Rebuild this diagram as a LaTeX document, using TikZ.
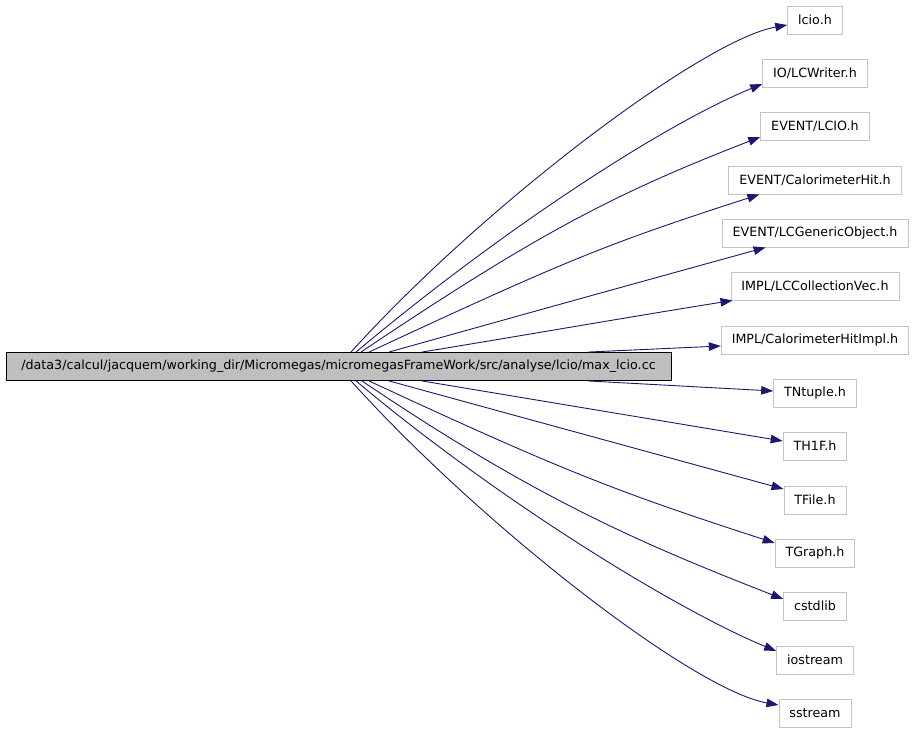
\documentclass[tikz,border=0pt]{standalone}
\usepackage{fontspec}
\setmainfont{DejaVu Sans}
\usetikzlibrary{arrows.meta}
\definecolor{edgeblue}{HTML}{191970}
\definecolor{boxgray}{HTML}{BFBFBF}
\definecolor{linegray}{HTML}{C4C4C4}

\begin{document}
\begin{tikzpicture}[x=1pt,y=-1pt,
                font=\fontsize{12.7}{15}\selectfont,
                every node/.style={draw=linegray,line width=0.9pt,inner xsep=10.5pt,inner ysep=0pt,minimum height=28pt},
                file/.style={fill=boxgray,draw=black,minimum width=665pt},
                inc/.style={draw=edgeblue,line width=0.9pt,-{Triangle[length=12pt,width=8.5pt]}}]
\useasboundingbox (0,0) rectangle (915,733);
% the file and what it includes
\node[file] (main) at (338.5,366.5) {/data3/calcul/jacquem/working\_dir/Micromegas/micromegasFrameWork/src/analyse/lcio/max\_lcio.cc};
\node (lcio) at (815,20) {lcio.h};
\node (writer) at (815,73) {IO/LCWriter.h};
\node (evlcio) at (815,126.5) {EVENT/LCIO.h};
\node (calhit) at (815,180) {EVENT/CalorimeterHit.h};
\node (generic) at (815,233) {EVENT/LCGenericObject.h};
\node (collvec) at (815,286) {IMPL/LCCollectionVec.h};
\node (hitimpl) at (815,340) {IMPL/CalorimeterHitImpl.h};
\node (tntuple) at (815,393) {TNtuple.h};
\node (th1f) at (815,446) {TH1F.h};
\node (tfile) at (815,500) {TFile.h};
\node (tgraph) at (815,553) {TGraph.h};
\node (cstdlib) at (815,606) {cstdlib};
\node (iostream) at (815,660) {iostream};
\node (sstream) at (815,713) {sstream};
% upper edges
\draw[inc] ([xshift=12.5pt]main.north) .. controls (485,204) and (703,40) .. ([yshift=-5pt]lcio.west);
\draw[inc] ([xshift=17.5pt]main.north) .. controls (499,232) and (662,125) .. ([yshift=-11pt]writer.west);
\draw[inc] ([xshift=22.5pt]main.north) .. controls (531,238) and (610,195) .. ([yshift=-10.5pt]evlcio.west);
\draw[inc] ([xshift=30.5pt]main.north) .. controls (567,260) and (606,244) .. ([xshift=31pt]calhit.south west);
\draw[inc] ([xshift=50.5pt]main.north) .. controls (514,317) and (640,282) .. ([xshift=44pt]generic.south west);
\draw[inc] ([xshift=83.5pt]main.north) .. controls (526,335) and (629,317) .. ([xshift=2pt]collvec.south west);
\draw[inc] ([xshift=249.5pt]main.north) -- ([yshift=-6pt]hitimpl.west);
% lower edges
\draw[inc] ([xshift=249.5pt]main.south) -- ([yshift=2pt]tntuple.west);
\draw[inc] ([xshift=83.5pt]main.south) -- ([yshift=5pt]th1f.west);
\draw[inc] ([xshift=50.5pt]main.south) -- ([yshift=11pt]tfile.west);
\draw[inc] ([xshift=30.5pt]main.south) .. controls (567,473) and (621,493) .. ([yshift=10pt]tgraph.west);
\draw[inc] ([xshift=23.5pt]main.south) .. controls (531,495) and (634,541) .. ([yshift=7pt]cstdlib.west);
\draw[inc] ([xshift=17.5pt]main.south) .. controls (499,501) and (677,610) .. ([yshift=9pt]iostream.west);
\draw[inc] ([xshift=12.5pt]main.south) .. controls (485,529) and (694,690) .. ([yshift=8pt]sstream.west);
\end{tikzpicture}
\end{document}
